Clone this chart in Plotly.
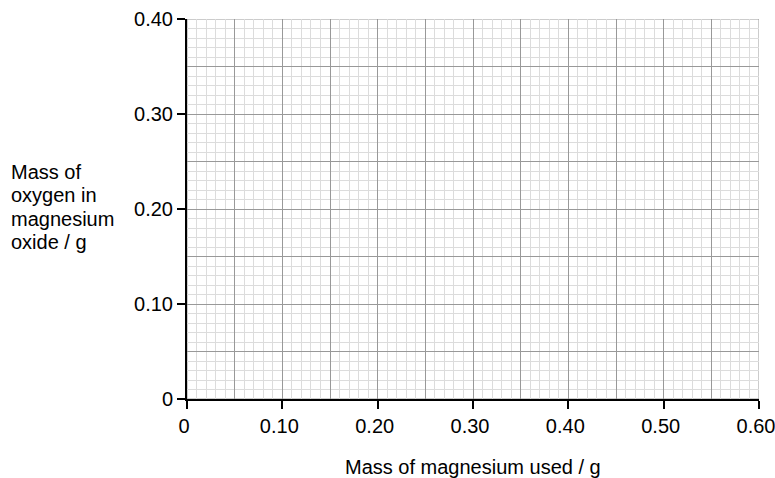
import plotly.graph_objects as go

# Axis data
x_range = [0, 0.60]
y_range = [0, 0.40]
x_tick_vals = [0, 0.10, 0.20, 0.30, 0.40, 0.50, 0.60]
x_tick_text = ["0", "0.10", "0.20", "0.30", "0.40", "0.50", "0.60"]
y_tick_vals = [0, 0.10, 0.20, 0.30, 0.40]
y_tick_text = ["0", "0.10", "0.20", "0.30", "0.40"]
x_title = "Mass of magnesium used / g"
y_title_lines = ["Mass of", "oxygen in", "magnesium", "oxide / g"]

FONT = "Liberation Sans"
FS = 20
MAJOR = "#999999"
MINOR = "#dcdcdc"

fig = go.Figure()
# invisible traces so both axis pairs render
fig.add_trace(go.Scatter(x=[None], y=[None], xaxis="x", yaxis="y", showlegend=False))
fig.add_trace(go.Scatter(x=[None], y=[None], xaxis="x2", yaxis="y2", showlegend=False))

grid_axis = dict(
    showgrid=True, gridcolor=MAJOR, gridwidth=1,
    showticklabels=False, ticks="", zeroline=False, showline=False,
    minor=dict(dtick=0.01, showgrid=True, gridcolor=MINOR, gridwidth=1, ticks=""),
    fixedrange=True, automargin=False,
)

label_axis = dict(
    ticks="outside", ticklen=8, tickwidth=2, tickcolor="#000",
    showline=True, linecolor="#000", linewidth=2,
    showgrid=False, zeroline=False, fixedrange=True, automargin=False,
    ticklabeloverflow="allow",
    tickfont=dict(family=FONT, size=FS, color="#000"),
)

annotations = [
    dict(text=x_title, xref="paper", yref="paper", x=0.5, y=0, yshift=-68,
         xanchor="center", yanchor="middle", showarrow=False,
         font=dict(family=FONT, size=FS, color="#000")),
]
LINE_STEP = 23.5
for i, line in enumerate(y_title_lines):
    annotations.append(
        dict(text=line, xref="paper", yref="paper", x=0, xshift=-178,
             y=0.5, yshift=(1.5 - i) * LINE_STEP + 2, xanchor="left", yanchor="middle",
             align="left", showarrow=False,
             font=dict(family=FONT, size=FS, color="#000")))

fig.update_layout(
    width=775, height=478,
    margin=dict(l=187, r=16, t=19, b=79),
    paper_bgcolor="white", plot_bgcolor="white",
    font=dict(family=FONT, size=FS, color="#000"),
    xaxis=dict(range=x_range, dtick=0.05, tick0=0, **grid_axis),
    yaxis=dict(range=y_range, dtick=0.05, tick0=0, **grid_axis),
    xaxis2=dict(range=x_range, overlaying="x", anchor="y2", side="bottom",
                tickmode="array", tickvals=x_tick_vals, ticktext=x_tick_text,
                ticklabelshift=-3, **label_axis),
    yaxis2=dict(range=y_range, overlaying="y", anchor="x2", side="left",
                tickmode="array", tickvals=y_tick_vals, ticktext=y_tick_text,
                **label_axis),
    shapes=[dict(type="rect", xref="x", yref="y", x0=x_range[0], x1=x_range[1],
                 y0=y_range[0], y1=y_range[1], line=dict(color=MAJOR, width=1),
                 layer="below")],
    annotations=annotations,
)

fig.write_html("out.html", config={"displayModeBar": False},
               post_script="document.body.style.margin='0';document.body.style.overflow='hidden';")
